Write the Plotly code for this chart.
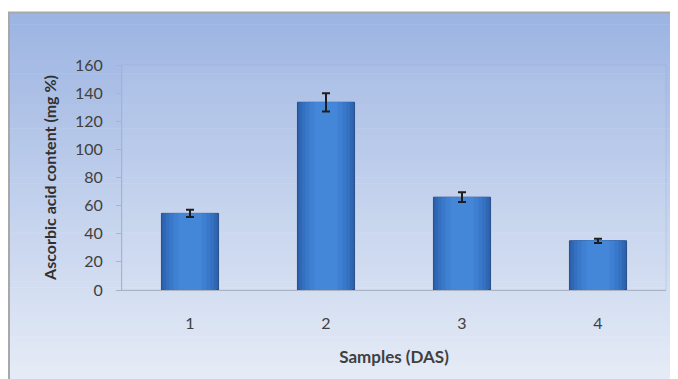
import plotly.graph_objects as go

categories = ["1", "2", "3", "4"]
values = [54.5, 133.5, 66, 35]
errors = [2.5, 6.5, 3.5, 1.5]
y_ticks = [0, 20, 40, 60, 80, 100, 120, 140, 160]

# page body has an 8px margin; figure is sized so the plot lands where the reference has it
OFF = 8
W, H = 670, 371
L, R, T, B = 114, 12, 57, 89
pw, ph = W - L - R, H - T - B

def px_x(x):
    return (x - OFF - L) / pw

def px_y(y):
    return (H - B - (y - OFF)) / ph

fig = go.Figure()
# layered bars give a cylinder-like horizontal shading
layers = [
    (0.42, "#2c60ab", dict(color="#27508c", width=1)),
    (0.39, "#3168b6", dict(width=0)),
    (0.35, "#3571c1", dict(width=0)),
    (0.30, "#3a79ca", dict(width=0)),
    (0.24, "#3f80d2", dict(width=0)),
]
for w, col, ln in layers:
    fig.add_trace(go.Bar(x=categories, y=values, width=w,
                         marker=dict(color=col, line=ln), hoverinfo="skip"))
fig.add_trace(go.Bar(
    x=categories, y=values, width=0.17,
    marker=dict(color="#4487d8", line=dict(width=0)),
    error_y=dict(type="data", array=errors, visible=True, color="#1e1e1e", thickness=2, width=4),
))

shapes = []
top_c = (156, 180, 226)
bot_c = (229, 235, 246)
y0, y1 = 12, 379
n = 60
for i in range(n):
    a = y0 + (y1 - y0) * i / n
    b = y0 + (y1 - y0) * (i + 1) / n + 0.6
    t = i / (n - 1)
    c = tuple(round(top_c[k] + (bot_c[k] - top_c[k]) * t) for k in range(3))
    shapes.append(dict(type="rect", xref="paper", yref="paper", layer="below",
                       x0=px_x(9), x1=px_x(677), y0=px_y(b), y1=px_y(a),
                       line=dict(width=0), fillcolor="rgb(%d,%d,%d)" % c))
shapes.append(dict(type="rect", xref="paper", yref="paper", layer="below",
                   x0=px_x(9), x1=px_x(677), y0=px_y(390), y1=px_y(12.5),
                   line=dict(color="#a8a8a8", width=2), fillcolor="rgba(0,0,0,0)"))
shapes.append(dict(type="rect", xref="paper", yref="paper", layer="below",
                   x0=0, x1=1, y0=0, y1=1,
                   line=dict(color="rgba(140,165,215,0.3)", width=1), fillcolor="rgba(255,255,255,0.05)"))

fig.update_layout(
    width=W, height=H,
    margin=dict(l=L, r=R, t=T, b=B),
    paper_bgcolor="white",
    plot_bgcolor="rgba(0,0,0,0)",
    shapes=shapes,
    showlegend=False,
    barmode="overlay",
    font=dict(family="Lato, Open Sans, sans-serif", color="#404040", size=16),
    xaxis=dict(
        showline=True, linecolor="#a9b3c4", linewidth=1,
        ticks="", showgrid=False, ticklabelstandoff=19,
        tickfont=dict(size=16, color="#404040"),
        title=dict(text="<b>Samples (DAS)</b>", font=dict(size=17, color="#404040"), standoff=19),
    ),
    yaxis=dict(
        range=[0, 160], tickvals=y_ticks, showgrid=False, zeroline=False,
        showline=True, linecolor="#a9b3c4", linewidth=1,
        ticks="outside", ticklen=5, tickcolor="#a9b3c4", ticklabelstandoff=10,
        tickfont=dict(size=16, color="#404040"),
        title=dict(text="<b>Ascorbic acid content (mg %)</b>", font=dict(size=16, color="#303030"), standoff=14),
    ),
)

fig.write_html("out.html")
